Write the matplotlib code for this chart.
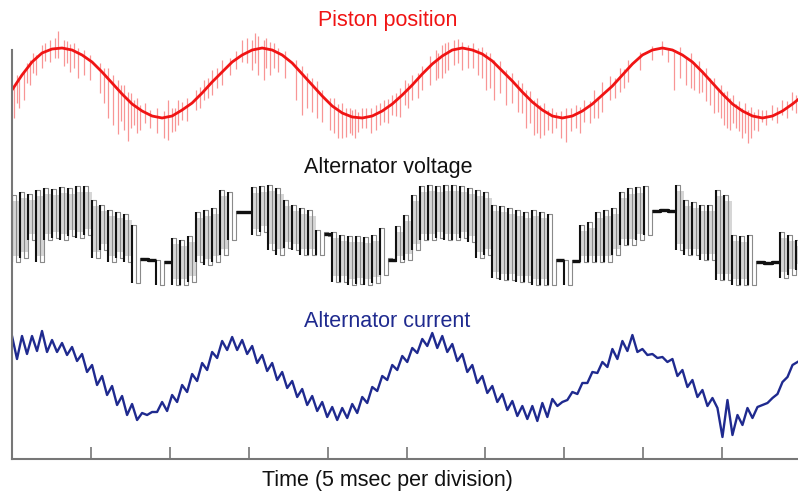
import matplotlib.pyplot as plt
import numpy as np

plt.rcParams['font.family'] = ['Liberation Sans', 'DejaVu Sans']

# sample intervals (ms)
dt_piston = 0.634
dt_current = 0.317
dt_switch = 0.507   # one switching period of the alternator voltage

# piston position (arbitrary units, up = positive)
piston = [-7, 8, 21, 30, 34, 35,
          33, 28, 21, 11, 0, -11, -21, -28, -33, -35,
          -33, -27, -20, -10, 1, 11, 21, 28, 33, 35,
          33, 28, 20, 9, -2, -13, -23, -30, -34,
          -35, -33, -28, -21, -12, -2, 9, 19, 27, 33, 35,
          33, 29, 22, 12, 2, -9, -19, -27, -33, -35,
          -33, -28, -21, -12, -3, 8, 19, 28, 33, 35,
          33, 28, 21, 11, 0, -11, -21, -28, -33, -35,
          -33, -28, -21, -13]

# noise spikes on the piston sensor: time (ms), top, bottom
spike_t = [0.13, 0.44, 0.76, 1.14, 1.52, 1.90, 2.41, 2.92, 3.30, 3.68, 4.18, 4.56, 4.94,
           6.08, 6.40, 6.72, 7.10, 7.35, 7.73, 8.11, 8.75, 9.89, 10.14, 10.52, 10.77,
           11.66, 12.17, 12.67, 13.31, 13.81, 14.58, 15.21, 15.59, 15.97, 16.35, 16.86,
           18.00, 18.38, 19.01, 19.65, 20.15, 20.66, 21.17, 21.55, 21.93, 22.43, 23.07,
           23.57, 24.08, 24.59, 24.90, 25.35, 25.98, 26.49, 26.87, 27.25, 27.63, 28.01,
           28.52, 28.90, 29.53, 30.04, 30.54, 31.31, 32.07, 32.57, 33.08, 33.46, 33.97,
           34.47, 35.11, 35.74, 36.25, 36.88, 37.39, 37.90, 38.53, 39.04, 39.80, 40.56,
           41.57, 41.95, 42.71, 43.22, 43.73, 44.23, 44.74, 45.12, 45.50, 45.88, 46.26,
           46.64, 47.02, 47.53, 48.16, 48.80, 49.43,
           0.3, 0.95, 1.33, 2.1, 2.7, 3.5, 3.9, 5.6, 5.85, 6.9, 7.55, 7.9, 8.4, 9.2,
           9.6, 10.3, 11.1, 11.9, 12.4, 13.0, 14.2, 14.9, 15.4, 16.1, 16.6, 17.3,
           18.7, 19.3, 20.4, 20.9, 21.4, 21.75, 22.2, 22.75, 23.3, 23.85, 24.35,
           25.1, 25.7, 27.0, 27.45, 28.25, 29.2, 29.8, 30.3, 30.9, 31.7, 32.3, 32.8,
           33.25, 33.7, 34.2, 34.8, 35.4, 36.0, 36.6, 37.1, 38.2, 38.8, 41.2, 42.3,
           43.0, 43.5, 44.0, 44.5, 44.95, 45.3, 45.7, 46.05, 46.45, 46.85, 47.25,
           47.8, 48.5, 49.1, 49.65]
spike_top = [-2, 3, 11, 23, 28, 38, 43, 52, 43, 39, 35, 33, 28,
             15, 8, 3, -2, -9, -17, -22, -27, -17, -25, -17, -19,
             -7, 3, 13, 23, 25, 43, 43, 47, 43, 41, 35,
             23, 17, 5, -7, -15, -21, -25, -27, -29, -25, -22,
             -17, -12, -5, 3, 8, 17, 27, 33, 38, 41, 43,
             41, 38, 35, 31, 23, 13, 3, -7, -17, -22, -27,
             -29, -25, -22, -17, -7, 1, 7, 15, 23, 31, 37,
             35, 31, 25, 21, 13, 5, -5, -9, -15, -21, -25,
             -27, -29, -27, -22, -17, -9,
             8, 20, 30, 40, 45, 42, 40, 20, 15, -2, -10, -15, -20, -25,
             -28, -25, -15, -4, 5, 15, 32, 45, 50, 45, 40, 32,
             10, 2, -15, -20, -25, -26, -25, -25, -20, -16, -10,
             0, 10, 30, 40, 44, 40, 36, 30, 22, 10, 0, -8,
             -15, -20, -25, -28, -25, -24, -18, -14, 5, 14, 42, 36,
             30, 22, 15, 5, -2, -8, -12, -18, -20, -24, -26,
             -27, -24, -18, -12]
spike_bottom = [-35, -25, -17, -2, 8, 15, 21, 25, 17, 11, 5, 8, 3,
                -35, -42, -51, -47, -58, -42, -47, -45, -57, -49, -42, -37,
                -27, -17, -12, -2, 8, 21, 13, 8, 3, 8, 11,
                -17, -32, -29, -39, -47, -55, -54, -52, -49, -45, -47,
                -39, -32, -34, -22, -17, -7, -2, 3, 5, 13, 18,
                13, 15, 8, -7, -17, -22, -29, -45, -52, -55, -47,
                -45, -59, -45, -39, -35, -29, -17, -9, 1, 13, 23,
                21, -7, -2, -7, -9, -22, -29, -42, -47, -45, -55,
                -60, -47, -39, -37, -32, -27,
                -20, 0, 10, 22, 25, 20, 15, -10, -20, -38, -45, -50, -40, -50,
                -55, -48, -38, -25, -15, -5, 14, 20, 20, 15, 15, 5,
                -25, -35, -50, -55, -50, -55, -45, -50, -42, -40, -33,
                -25, -15, 5, 10, 20, 15, 5, -5, -10, -20, -30, -40,
                -50, -52, -50, -55, -48, -50, -40, -35, -15, -5, 28, 5,
                -5, -10, -18, -30, -35, -45, -40, -48, -50, -55, -48,
                -42, -40, -35, -30]

# alternator voltage: high and low level of each switching period
volt_hi = [37, 40, 38, 42, 44, 43, 45, 44, 46, 46, 32, 27, 22, 20, 18, 7,
           -26, -27, -28, -29, -6, -8, -4, 20, 22, 24, 42, 40, 21, 20,
           45, 46, 47, 44, 32, 27, 24, 22, 2, 0, 0, -3, -4, -4, -5, -3, 4,
           -26, 6, 17, 37, 46, 47, 46, 47, 47, 46, 44, 42, 40,
           27, 26, 24, 22, 20, 22, 20, 18, -27, -28, -28, 7, 10, 20, 22, 24,
           40, 44, 45, 46, 22, 23, 22, 47, 32, 30, 27, 27, 42, 37,
           -3, -4, -3, -29, -30, -30, 0, -3, -8]
volt_lo = [-30, -26, -8, -30, -8, -6, -8, -4, -6, -3, -26, -18, -30, -26, -30, -51,
           -28, -28, -53, -30, -53, -53, -50, -30, -33, -30, -23, -8, 20, 20,
           -3, 0, -18, -23, -16, -18, -23, -23, -23, -4, -50, -50, -53, -52, -53, -51, -43,
           -29, -30, -28, -18, -8, -8, -6, -8, -8, -6, -10, -26, -23,
           -46, -48, -48, -50, -50, -53, -53, -53, -29, -53, -29, -30, -30, -30, -30, -23,
           -13, -13, -8, -3, 21, 22, 21, -18, -23, -23, -28, -28, -48, -48,
           -53, -53, -53, -30, -31, -30, -46, -43, -38]

# alternator current
current = [42, 19, 42, 24, 42, 27, 47, 26, 38, 26, 35, 23, 31, 17, 24, 6,
           13, -7, 2, -17, -8, -27, -18, -37, -26, -42, -35, -37, -34, -34,
           -24, -33, -17, -24, -7, -14, 4, -3, 15, 8, 26, 20, 37, 28, 41, 28,
           38, 24, 32, 15, 23, 7, 15, -2, 6, -10, -3, -19, -11, -27, -18, -33,
           -24, -39, -29, -42, -30, -40, -26, -35, -19, -25, -9, -13, 2, -2,
           13, 8, 22, 16, 30, 25, 39, 32, 45, 30, 42, 26, 34, 17, 24, 6, 13, -5,
           2, -15, -8, -24, -16, -32, -23, -38, -28, -41, -28, -43, -25, -39,
           -21, -28, -24, -22, -14, -16, -5, -5, 6, 5, 16, 11, 29, 19, 37, 27,
           43, 26, 29, 23, 24, 20, 21, 16, 19, 2, 8, -9, -2, -19, -12, -28,
           -20, -30, -59, -22, -57, -37, -47, -30, -40, -29, -27, -25, -20, -16,
           -4, 1, 13, 16]

# vertical placement of the three traces
piston_offset = 376
volt_offset = 227
current_offset = 81

t_piston = np.arange(len(piston)) * dt_piston
t_current = np.arange(len(current)) * dt_current
t_switch = np.arange(len(volt_hi)) * dt_switch
hi = np.array(volt_hi) + volt_offset
lo = np.array(volt_lo) + volt_offset
flat = np.abs(hi - lo) < 5
t_edge = np.append(t_switch, t_switch[-1] + dt_switch)

# square wave: high for the first half of each period, low for the second
volt = np.empty(2 * len(hi))
volt[0::2] = hi
volt[1::2] = lo
t_volt = np.arange(len(volt)) * dt_switch / 2

fig = plt.figure(figsize=(7.98, 4.91), dpi=100)
ax = fig.add_axes([12 / 798, 32 / 491, 786 / 798, 459 / 491])

red = '#f01414'
blue = '#1f2a8f'

# piston position
ax.vlines(spike_t, np.array(spike_bottom) + piston_offset, np.array(spike_top) + piston_offset,
          color=red, alpha=0.45, lw=0.9)
ax.plot(t_piston, np.array(piston) + piston_offset, color=red, lw=2.0)

# alternator voltage
band_lo = np.append(lo, lo[-1]) + 6
band_hi = np.append(hi, hi[-1]) - 6
ax.fill_between(t_edge, band_lo, band_hi, where=band_hi > band_lo, step='post',
                color='#d6d6d6', lw=0)
ax.plot(t_volt, volt, color='#8a8a8a', lw=0.8, drawstyle='steps-post')
ax.vlines(t_switch[~flat], lo[~flat], hi[~flat], color='#111111', lw=1.5)
flat_line = np.where(flat, (hi + lo) / 2, np.nan)
ax.plot(t_edge, np.append(flat_line, flat_line[-1]), color='#111111', lw=2.4,
        drawstyle='steps-post', solid_capstyle='butt')

# alternator current
ax.plot(t_current, np.array(current) + current_offset, color=blue, lw=1.7)

ax.set_xlim(0, 49.8)
ax.set_ylim(0, 459)
ax.set_xticks([5, 10, 15, 20, 25, 30, 35, 40, 45])
ax.set_xticklabels([])
ax.set_yticks([])
ax.tick_params(axis='x', direction='in', length=9, width=1.2, color='#777777')
for side in ['top', 'right']:
    ax.spines[side].set_visible(False)
for side in ['left', 'bottom']:
    ax.spines[side].set_color('#777777')
    ax.spines[side].set_linewidth(1.5)
ax.spines['left'].set_bounds(0, 409)

fig.text(388 / 798, 1 - 26 / 491, 'Piston position', color=red, fontsize=15.5,
         ha='center', va='baseline')
fig.text(388 / 798, 1 - 173 / 491, 'Alternator voltage', color='#111111', fontsize=15.5,
         ha='center', va='baseline')
fig.text(387 / 798, 1 - 327 / 491, 'Alternator current', color=blue, fontsize=15.5,
         ha='center', va='baseline')
fig.text(387 / 798, 1 - 486 / 491, 'Time (5 msec per division)', color='#111111', fontsize=15.5,
         ha='center', va='baseline')

fig.savefig('out.png', dpi=100)
